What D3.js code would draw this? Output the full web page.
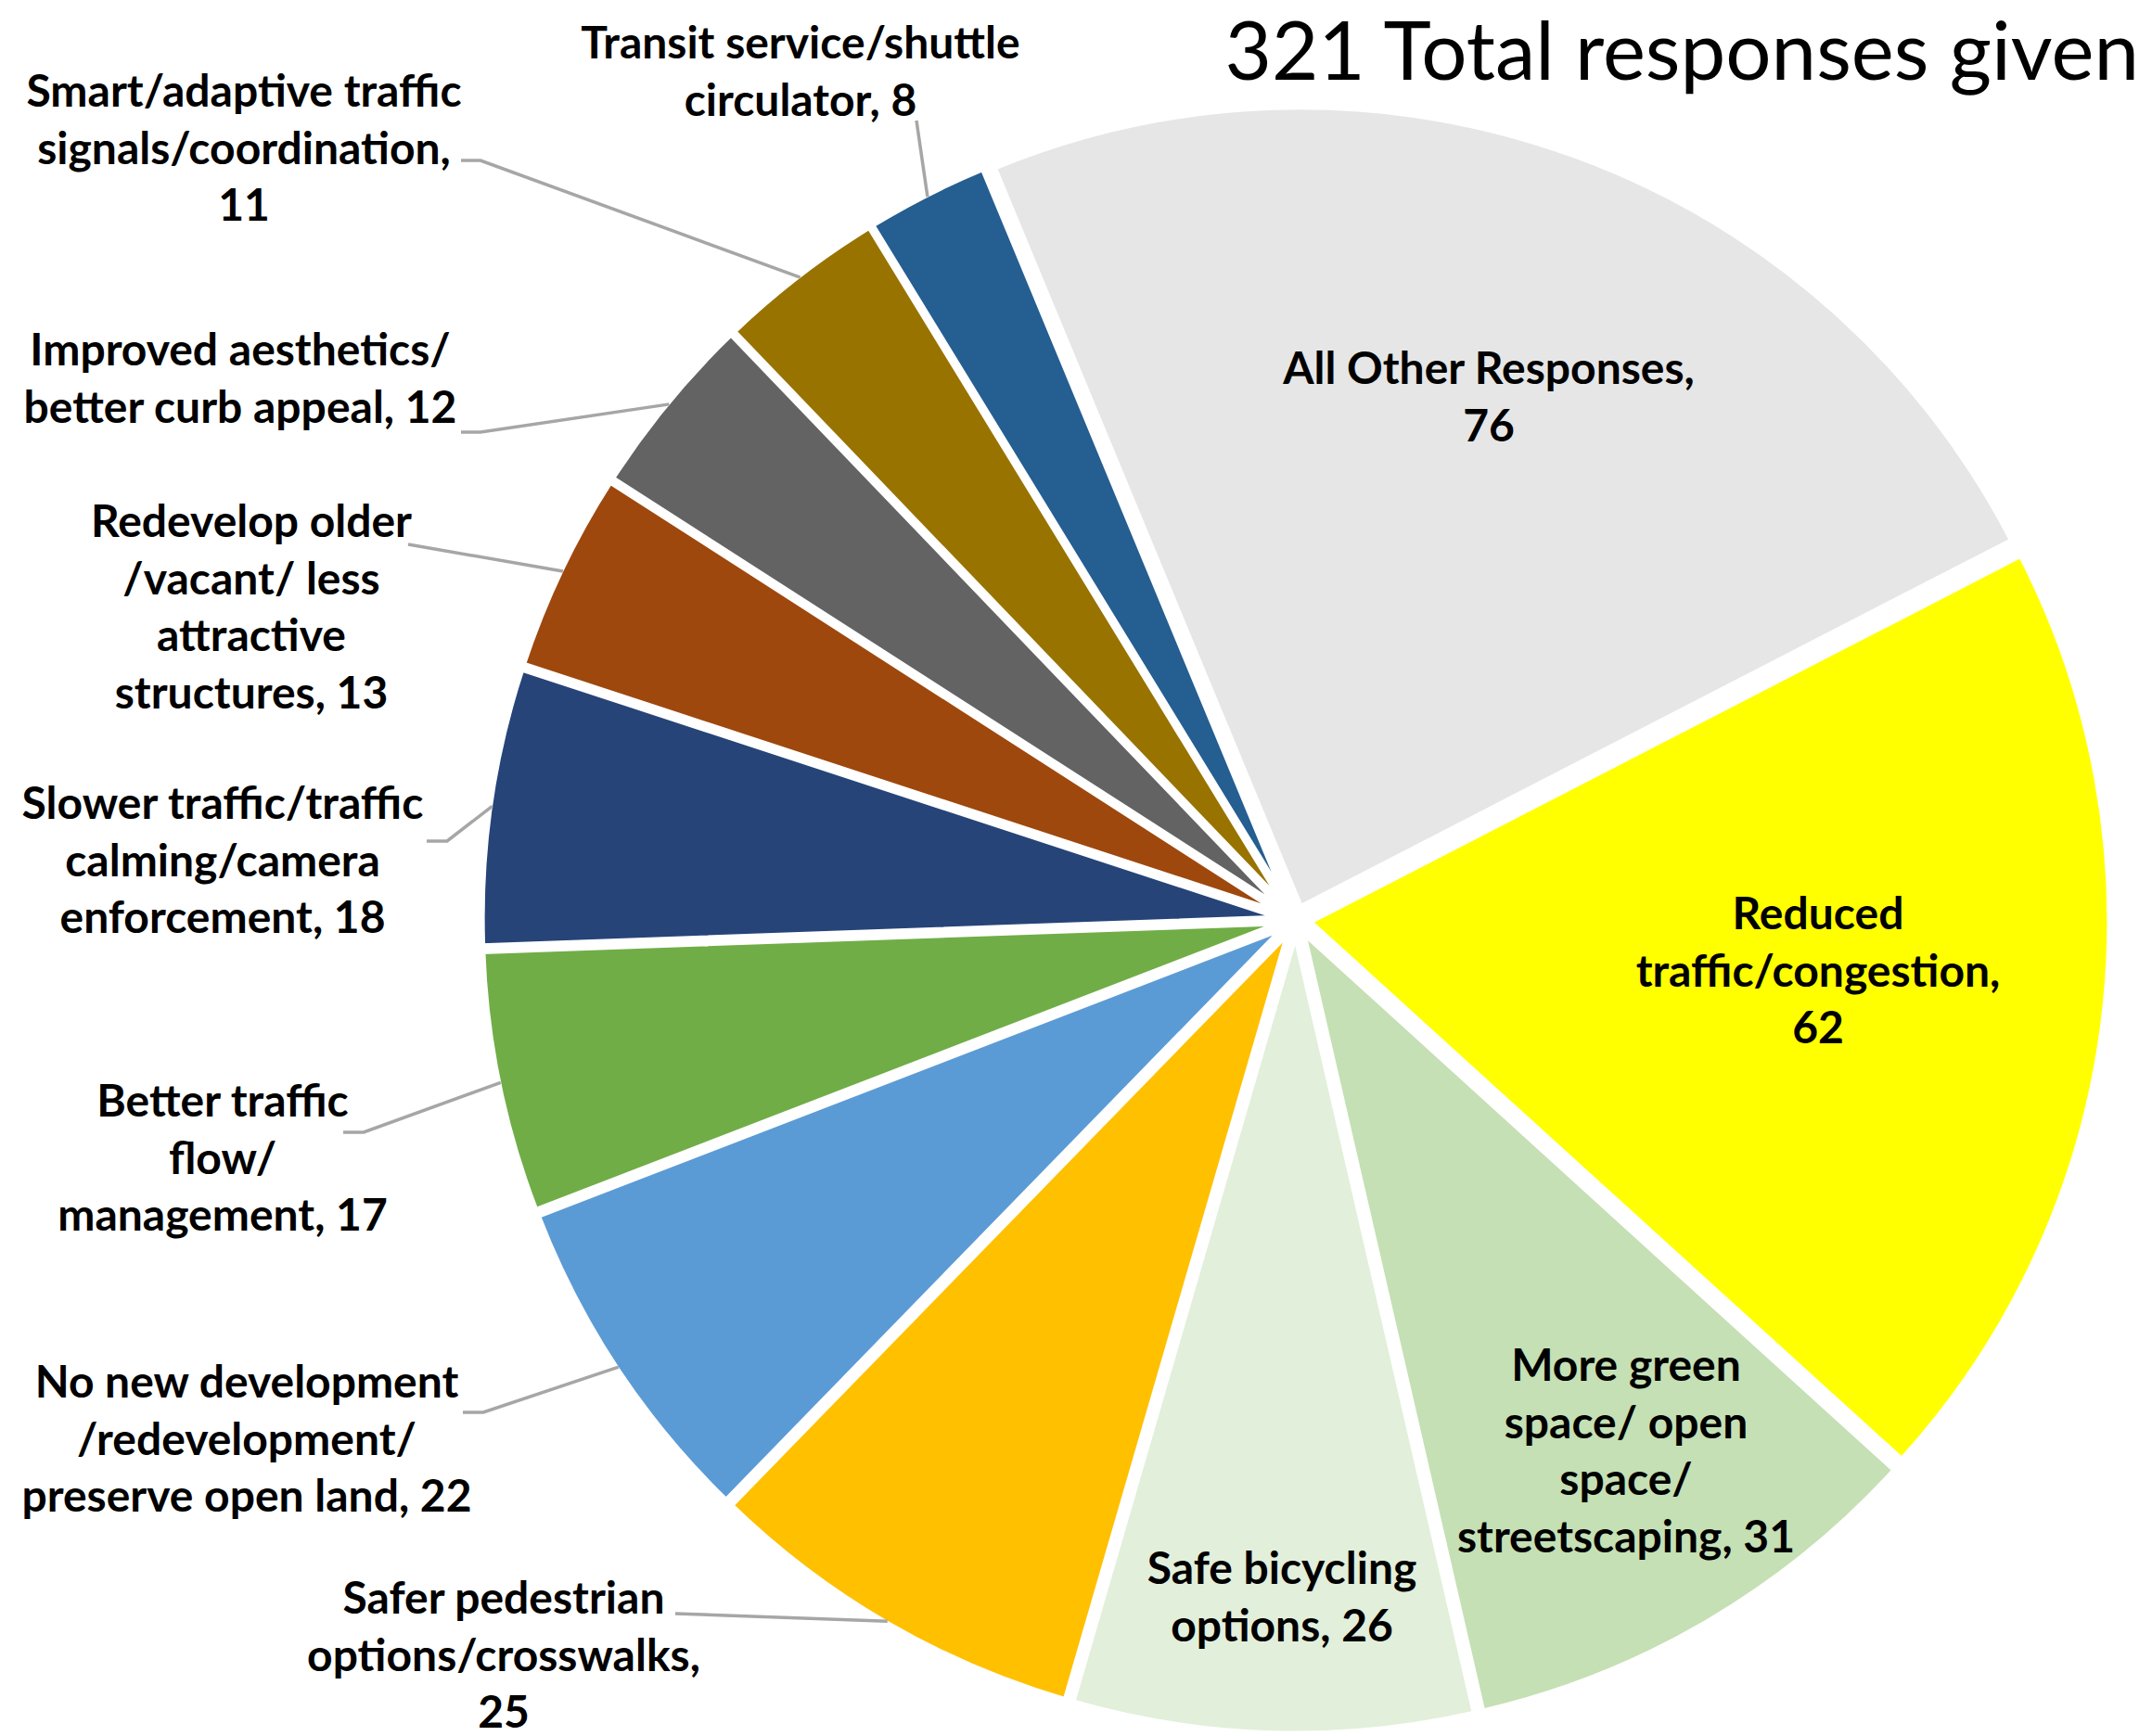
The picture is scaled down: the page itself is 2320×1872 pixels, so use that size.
<!DOCTYPE html>
<html>
<head>
<meta charset="utf-8">
<script src="https://cdn.jsdelivr.net/npm/d3@7"></script>
<style>
  body { margin: 0; background: #fff; }
  text { font-family: Lato, "Open Sans", sans-serif; fill: #000; }
</style>
</head>
<body>
<div class="pie-figure"></div>
<script>
const w = 2320;
const h = 1872;

// slices, clockwise starting at the big grey one
const categories = [
  "All Other Responses", "Reduced traffic/congestion", "More green space/ open space/ streetscaping",
  "Safe bicycling options", "Safer pedestrian options/crosswalks", "No new development/redevelopment/ preserve open land",
  "Better traffic flow/ management", "Slower traffic/traffic calming/camera enforcement",
  "Redevelop older /vacant/ less attractive structures", "Improved aesthetics/ better curb appeal",
  "Smart/adaptive traffic signals/coordination", "Transit service/shuttle circulator"
];
const values = [76, 62, 31, 26, 25, 22, 17, 18, 13, 12, 11, 8];
const colors = ["#e6e6e6", "#ffff00", "#c5e0b4", "#e2efda", "#ffc000", "#5b9bd5",
                "#70ad47", "#264478", "#9e480e", "#636363", "#997300", "#255e91"];
// label text as it wraps in the original
const labelLines = [
  ["All Other Responses,", "76"],
  ["Reduced", "traffic/congestion,", "62"],
  ["More green", "space/ open", "space/", "streetscaping, 31"],
  ["Safe bicycling", "options, 26"],
  ["Safer pedestrian", "options/crosswalks,", "25"],
  ["No new development", "/redevelopment/", "preserve open land, 22"],
  ["Better traffic", "flow/", "management, 17"],
  ["Slower traffic/traffic", "calming/camera", "enforcement, 18"],
  ["Redevelop older", "/vacant/ less", "attractive", "structures, 13"],
  ["Improved aesthetics/", "better curb appeal, 12"],
  ["Smart/adaptive traffic", "signals/coordination,", "11"],
  ["Transit service/shuttle", "circulator, 8"]
];
const title = "321 Total responses given";

// label placement (centre x, centre y of first line) and leader start points
const labelPos = [
  [1605, 397], [1960, 985], [1753, 1472], [1382, 1691], [543, 1723], [266, 1490],
  [240, 1187], [240, 866], [271, 562], [259, 377], [263, 98], [863, 46]
];
const leaderStart = [
  null, null, null, null,
  [[728, 1740]],
  [[499, 1523], [521, 1523]],
  [[370, 1221], [392, 1221]],
  [[460, 907], [482, 907]],
  [[440, 587]],
  [[497, 466], [518, 466]],
  [[497, 173], [518, 173]],
  [[988, 130]]
];

const cx = 1397, cy = 992;
const r = 864;
const explode = 14;
const lineH = 61.5;

let svg = d3.select(".pie-figure")
  .append("svg")
  .attr("width", w)
  .attr("height", h);

const rows = categories.map((c, i) => ({ name: c, value: values[i], color: colors[i], lines: labelLines[i], i: i }));

const startA = -22.5 * Math.PI / 180;
const pie = d3.pie()
  .sort(null)
  .value(d => d.value)
  .startAngle(startA)
  .endAngle(startA + 2 * Math.PI);

const arc = d3.arc().innerRadius(0).outerRadius(r);
const arcs = pie(rows);

const g = svg.append("g").attr("transform", `translate(${cx},${cy})`);

function shift(d) {
  const m = (d.startAngle + d.endAngle) / 2;
  return [explode * Math.sin(m), -explode * Math.cos(m)];
}

g.selectAll("path.slice")
  .data(arcs)
  .enter()
  .append("path")
  .attr("class", "slice")
  .attr("d", arc)
  .attr("fill", d => d.data.color)
  .attr("stroke", "#fff")
  .attr("stroke-width", 7)
  .attr("stroke-linejoin", "round")
  .attr("transform", d => `translate(${shift(d)})`);

// leader lines
const lineGen = d3.line();
arcs.forEach(d => {
  const st = leaderStart[d.data.i];
  if (!st) return;
  const m = (d.startAngle + d.endAngle) / 2;
  const s = shift(d);
  const end = [cx + s[0] + (r - 3) * Math.sin(m), cy + s[1] - (r - 3) * Math.cos(m)];
  svg.append("path")
    .attr("d", lineGen(st.concat([end])))
    .attr("fill", "none")
    .attr("stroke", "#a6a6a6")
    .attr("stroke-width", 3.5);
});

// labels
arcs.forEach(d => {
  const p = labelPos[d.data.i];
  const t = svg.append("text")
    .attr("text-anchor", "middle")
    .attr("font-weight", 700)
    .attr("font-size", 48);
  d.data.lines.forEach((ln, k) => {
    t.append("tspan")
      .attr("x", p[0])
      .attr("y", p[1] + k * lineH + 17)
      .text(ln);
  });
});

svg.append("text")
  .attr("x", 2306)
  .attr("y", 86)
  .attr("text-anchor", "end")
  .attr("font-size", 87)
  .text(title);
</script>
</body>
</html>
